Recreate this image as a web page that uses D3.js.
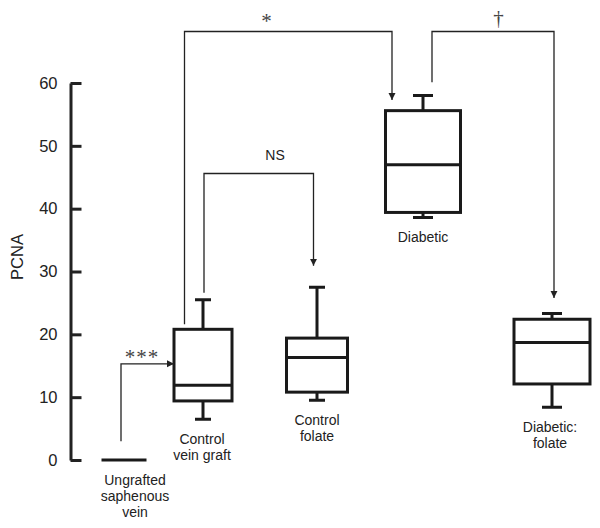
<!doctype html>
<html>
<head>
<meta charset="UTF-8">
<title>PCNA</title>
<script src="https://cdn.jsdelivr.net/npm/d3@7/dist/d3.min.js"></script>
<style>
  body { margin: 0; background: #fff; }
  svg text { font-family: "Liberation Sans", Arial, Helvetica, sans-serif; fill: #222; }
  .sig { font-family: "Liberation Serif", "Times New Roman", serif; fill: #444; }
</style>
</head>
<body>
<script>
// data
var groups = ["Ungrafted saphenous vein", "Control vein graft", "Control folate", "Diabetic", "Diabetic: folate"];
var groupLines = [["Ungrafted", "saphenous", "vein"], ["Control", "vein graft"], ["Control", "folate"], ["Diabetic"], ["Diabetic:", "folate"]];
var whiskerLow  = [0, 6.5,  9.5, 38.6,  8.4];
var q1          = [0, 9.4, 10.8, 39.4, 12.1];
var median      = [0, 11.9, 16.3, 47.0, 18.7];
var q3          = [0, 20.8, 19.4, 55.6, 22.4];
var whiskerHigh = [0, 25.5, 27.5, 58.0, 23.3];
var yTicks = [0, 10, 20, 30, 40, 50, 60];

// layout: the groups are not evenly spaced in the original
var slot = [0.34, 1.13, 2.27, 3.33, 4.62];
var boxW = [45, 58, 61, 75, 76];

var width = 600, height = 528;

var svg = d3.select("body").append("svg")
    .attr("width", width)
    .attr("height", height);

var x = d3.scaleLinear().domain([0, 5]).range([90, 590]);
var y = d3.scaleLinear().domain([0, 60]).range([460, 83]);

var cx = function(i) { return x(slot[i]); };

// arrow head
svg.append("defs").append("marker")
    .attr("id", "arrow")
    .attr("viewBox", "0 0 10 10")
    .attr("refX", 10).attr("refY", 5)
    .attr("markerWidth", 7).attr("markerHeight", 8)
    .attr("markerUnits", "userSpaceOnUse")
    .attr("orient", "auto")
  .append("path")
    .attr("d", "M0,0 L10,5 L0,10 Z")
    .attr("fill", "#222");

// y axis, ticks pointing right
var yAxis = d3.axisLeft(y)
    .tickValues(yTicks)
    .tickSizeInner(-11)
    .tickSizeOuter(0)
    .tickPadding(13);

var ax = svg.append("g")
    .attr("transform", "translate(70.5,0)")
    .call(yAxis);
ax.select(".domain").attr("stroke", "#222").attr("stroke-width", 3);
ax.selectAll(".tick line").attr("stroke", "#222").attr("stroke-width", 3);
ax.selectAll(".tick text")
    .attr("font-size", 16.5)
    .attr("font-family", "Liberation Sans, Arial, sans-serif")
    .attr("fill", "#222");

svg.append("text")
    .attr("transform", "translate(23,257) rotate(-90)")
    .attr("text-anchor", "middle")
    .attr("font-size", 16.5)
    .text("PCNA");

// boxes
var idx = d3.range(groups.length);
var g = svg.append("g")
    .attr("stroke", "#1a1a1a")
    .attr("stroke-width", 3)
    .attr("fill", "none");

// whiskers
g.selectAll(".whisker")
  .data(idx.filter(function(i) { return whiskerHigh[i] > q3[i]; }))
  .enter().append("path")
    .attr("d", function(i) {
      var c = cx(i);
      var cap = boxW[i] < 70 ? 8 : 10;
      return "M" + c + "," + y(q3[i]) + "V" + y(whiskerHigh[i]) +
             "M" + (c - cap) + "," + y(whiskerHigh[i]) + "H" + (c + cap) +
             "M" + c + "," + y(q1[i]) + "V" + y(whiskerLow[i]) +
             "M" + (c - cap) + "," + y(whiskerLow[i]) + "H" + (c + cap);
    });

g.selectAll(".box")
  .data(idx.filter(function(i) { return q3[i] > q1[i]; }))
  .enter().append("rect")
    .attr("x", function(i) { return cx(i) - boxW[i] / 2; })
    .attr("y", function(i) { return y(q3[i]); })
    .attr("width", function(i) { return boxW[i]; })
    .attr("height", function(i) { return y(q1[i]) - y(q3[i]); });

g.selectAll(".median")
  .data(idx)
  .enter().append("line")
    .attr("x1", function(i) { return cx(i) - boxW[i] / 2; })
    .attr("x2", function(i) { return cx(i) + boxW[i] / 2; })
    .attr("y1", function(i) { return y(median[i]); })
    .attr("y2", function(i) { return y(median[i]); });

// group labels under the low whisker
var labelDx = [11, -1, 0, 0, -2];
svg.selectAll(".glabel")
  .data(idx)
  .enter().append("text")
    .attr("text-anchor", "middle")
    .attr("font-size", 14)
    .attr("x", function(i) { return cx(i) + labelDx[i]; })
    .attr("y", function(i) { return y(whiskerLow[i]) + 25; })
    .each(function(i) {
      var t = d3.select(this);
      groupLines[i].forEach(function(s, k) {
        t.append("tspan")
          .attr("x", cx(i) + labelDx[i])
          .attr("dy", k === 0 ? 0 : 16)
          .text(s);
      });
    });

// significance brackets
var left = function(i) { return cx(i) - boxW[i] / 2; };
var brackets = [
  { d: "M" + (cx(0) - 3) + "," + y(3) + "V" + y(15.3) + "H" + left(1), label: "***", lx: cx(0) + 18, ly: y(15.3) - 8, size: 21 },
  { d: "M" + (cx(1) - 18.5) + "," + y(21.6) + "V" + y(68.2) + "H" + (cx(3) - 31) + "V" + y(57.3), label: "*", lx: 266.5, ly: y(68.2) - 11, size: 21 },
  { d: "M" + (cx(1) + 1) + "," + y(26.6) + "V" + y(45.6) + "H" + (cx(2) - 3.5) + "V" + y(30.9), label: "NS", lx: 275, ly: y(45.6) - 13, size: 14, sans: true },
  { d: "M" + (cx(3) + 9) + "," + y(60.1) + "V" + y(68.2) + "H" + (cx(4) + 2) + "V" + y(25.8), label: "\u2020", lx: 498.5, ly: y(68.2) - 14, size: 21 }
];

svg.selectAll(".bracket")
  .data(brackets)
  .enter().append("path")
    .attr("d", function(b) { return b.d; })
    .attr("fill", "none")
    .attr("stroke", "#222")
    .attr("stroke-width", 1.3)
    .attr("marker-end", "url(#arrow)");

svg.selectAll(".siglabel")
  .data(brackets)
  .enter().append("text")
    .attr("class", function(b) { return b.sans ? null : "sig"; })
    .attr("text-anchor", "middle")
    .attr("x", function(b) { return b.lx; })
    .attr("y", function(b) { return b.ly + (b.sans ? 0 : 8); })
    .attr("font-size", function(b) { return b.size; })
    .attr("letter-spacing", function(b) { return b.label === "***" ? 1 : 0; })
    .text(function(b) { return b.label; });
</script>
</body>
</html>
